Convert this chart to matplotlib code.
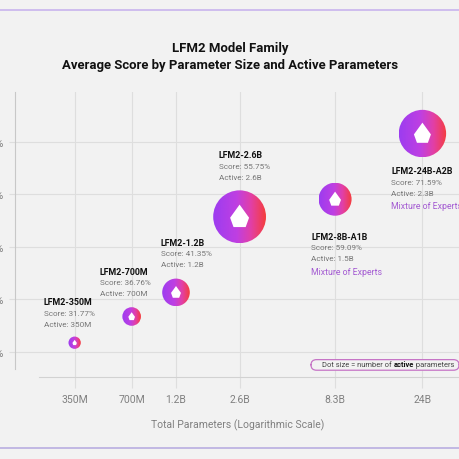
import numpy as np
import matplotlib.pyplot as plt
import matplotlib.transforms as mtransforms
from matplotlib.patches import Circle, PathPatch, FancyBboxPatch
from matplotlib.path import Path
from matplotlib.colors import LinearSegmentedColormap
from matplotlib.image import AxesImage
from matplotlib.lines import Line2D
from matplotlib.text import Annotation

plt.rcParams['font.family'] = ['Roboto', 'DejaVu Sans']

# data
models = ['LFM2-350M', 'LFM2-700M', 'LFM2-1.2B', 'LFM2-2.6B', 'LFM2-8B-A1B', 'LFM2-24B-A2B']
total_params = [0.35, 0.7, 1.2, 2.6, 8.3, 24]      # billions
scores = [31.77, 36.76, 41.35, 55.75, 59.09, 71.59]
active_params = [0.35, 0.7, 1.2, 2.6, 1.5, 2.3]    # billions
active_labels = ['350M', '700M', '1.2B', '2.6B', '1.5B', '2.3B']
is_moe = [False, False, False, False, True, True]
x_tick_labels = ['350M', '700M', '1.2B', '2.6B', '8.3B', '24B']
y_ticks = [30, 40, 50, 60, 70]

# label placement in pixels relative to bubble centre (name line)
label_offsets = [(-31, 41), (-32, 45), (-15, 50), (-21, 62), (-24, -37), (-31, -37)]

BG = '#f2f2f2'
GRID = '#dedede'

fig = plt.figure(figsize=(4.6, 4.6), dpi=100, facecolor=BG)
ax = fig.add_axes([15 / 460, 82 / 460, 445 / 460, 285 / 460])
ax.set_facecolor(BG)
ax.set_xscale('log')
ax.set_xlim(0.1695, 37.9)
ax.set_ylim(25.24, 79.5)

ax.set_xticks(total_params)
ax.set_xticklabels(x_tick_labels)
ax.xaxis.set_minor_locator(plt.NullLocator())
ax.set_yticks(y_ticks)
ax.set_yticklabels([f'{v}%' for v in y_ticks])
ax.tick_params(axis='x', length=8, color=GRID, pad=4, labelsize=7.5, labelcolor='#808080')
ax.tick_params(axis='y', length=4, color=GRID, pad=4, labelsize=7.5, labelcolor='#808080')
ax.grid(True, color=GRID, linewidth=0.8)
ax.set_axisbelow(True)

for s in ['top', 'right']:
    ax.spines[s].set_visible(False)
ax.spines['left'].set_color('#c8c8c8')
ax.spines['left'].set_bounds(26.7, 79.5)
ax.spines['bottom'].set_color('#d2d2d2')
ax.spines['bottom'].set_bounds(0.227, 37.9)
ax.set_xlabel('Total Parameters (Logarithmic Scale)', fontsize=7.5, color='#808080', labelpad=11)

# bubbles with horizontal gradient
cmap = LinearSegmentedColormap.from_list(
    'lfm', [(0, '#9c3cf0'), (0.45, '#bf3fe2'), (0.72, '#e23fa6'), (1, '#f53d3b')])
grad = np.linspace(0, 1, 256).reshape(1, -1)

# logo: pointed drop with inner drop cut out
outer = [(0, 1), (0.78, -0.08), (0.5, -0.85), (-0.5, -0.85), (-0.78, -0.08), (0, 1)]
inner = [(0, 0.42), (0.34, -0.22), (0.16, -0.55), (-0.16, -0.55), (-0.34, -0.22), (0, 0.42)]
verts = outer + inner
codes = ([Path.MOVETO] + [Path.LINETO] * 4 + [Path.CLOSEPOLY]) * 2
logo_path = Path(verts, codes)

for x, y, a in zip(total_params, scores, active_params):
    r_px = 3 + 9 * a
    tr = mtransforms.Affine2D().scale(r_px) + mtransforms.ScaledTranslation(x, y, ax.transData)
    circ = Circle((0, 0), 1, transform=tr)
    im = AxesImage(ax, cmap=cmap, interpolation='bicubic', extent=(-1, 1, -1, 1), zorder=3)
    im.set_data(grad)
    im.set_transform(tr)
    im.set_clip_path(circ)
    ax.add_image(im)
    logo = PathPatch(logo_path, transform=mtransforms.Affine2D().scale(0.46) + tr,
                     facecolor='white', edgecolor='none', zorder=4)
    ax.add_patch(logo)

# labels
for name, x, y, act, moe, (dx, dy) in zip(models, total_params, scores, active_labels,
                                          is_moe, label_offsets):
    kw = dict(xy=(x, y), textcoords='offset pixels', ha='left', va='center', zorder=5)
    ax.annotate(name, xytext=(dx, dy), fontsize=6.4, fontweight='bold', color='#111111', **kw)
    ax.annotate(f'Score: {y:.2f}%', xytext=(dx, dy - 11), fontsize=5.9, color='#777777', **kw)
    ax.annotate(f'Active: {act}', xytext=(dx, dy - 22), fontsize=5.9, color='#777777', **kw)
    if moe:
        ax.annotate('Mixture of Experts', xytext=(dx, dy - 35), fontsize=6.3,
                    color='#a35ad2', **kw)

# title
fig.text(0.5, 1 - 49 / 460, 'LFM2 Model Family', ha='center', va='center',
         fontsize=9.45, fontweight='bold', color='#111111')
fig.text(0.5, 1 - 65 / 460, 'Average Score by Parameter Size and Active Parameters',
         ha='center', va='center', fontsize=9.45, fontweight='bold', color='#111111')

# size legend box
box = FancyBboxPatch((0.676, 0.193), 0.322, 0.023, boxstyle='round,pad=0,rounding_size=0.012',
                     transform=fig.transFigure, facecolor=BG, edgecolor='#c674c6',
                     linewidth=0.9, zorder=6)
fig.patches.append(box)
t1 = fig.text(0.70, 1 - 366 / 460, 'Dot size = number of ', fontsize=5.4, color='#444444',
              va='center', zorder=7)
t2 = Annotation('active', xy=(1, 0), xycoords=t1, ha='left', va='bottom', fontsize=5.4,
                fontweight='bold', color='#111111', zorder=7)
fig.add_artist(t2)
t3 = Annotation(' parameters', xy=(1, 0), xycoords=t2, ha='left', va='bottom', fontsize=5.4,
                color='#444444', zorder=7)
fig.add_artist(t3)

# decorative frame lines
fig.add_artist(Line2D([0, 1], [1 - 11 / 460] * 2, color='#c9b4ee', linewidth=1.2))
fig.add_artist(Line2D([0, 1], [1 - 449 / 460] * 2, color='#b9aee0', linewidth=1.2))

fig.savefig('out.png', dpi=100, facecolor=BG)
